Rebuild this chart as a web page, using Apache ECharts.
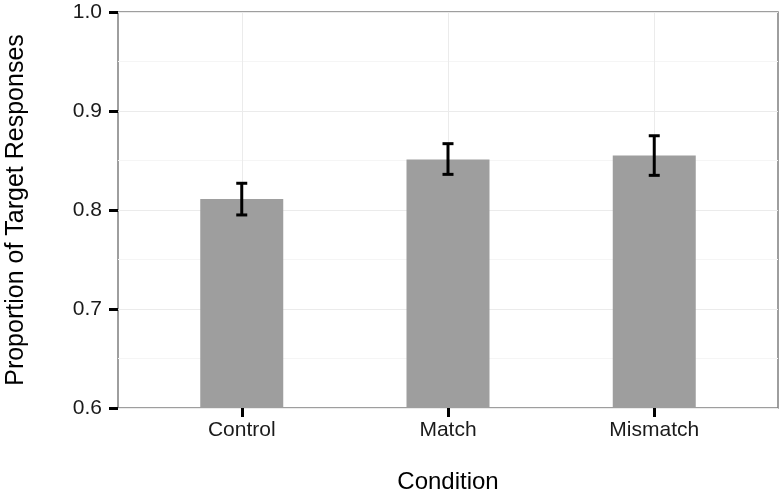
<!DOCTYPE html>
<html><head><meta charset="utf-8">
<script src="https://cdn.jsdelivr.net/npm/echarts@6/dist/echarts.min.js"></script>
<style>html,body{margin:0;padding:0;background:#fff}#c{width:783px;height:495px}</style>
</head><body><div id="c"></div>
<script>
const categories = ['Control', 'Match', 'Mismatch'];
const means = [0.811, 0.851, 0.855];
const errLow = [0.795, 0.836, 0.835];
const errHigh = [0.827, 0.867, 0.875];
const yTicks = [0.6, 0.7, 0.8, 0.9, 1.0];

const catPos = categories.map((c, i) => i + 1);
const chart = echarts.init(document.getElementById('c'));
const font = 'Liberation Sans, Arial, sans-serif';
chart.setOption({
  animation: false,
  grid: { left: 118, right: 5, top: 12, bottom: 87, containLabel: false, outerBoundsMode: 'none',
          show: true, borderColor: '#7f7f7f', borderWidth: 1.5, backgroundColor: '#fff' },
  xAxis: {
    type: 'value', min: 0.4, max: 3.6,
    name: 'Condition', nameLocation: 'middle', nameGap: 62,
    nameTextStyle: { fontFamily: font, fontSize: 24, color: '#000' },
    axisLine: { show: false },
    axisTick: { show: true, length: 9, inside: false, customValues: catPos, lineStyle: { color: '#000', width: 3 } },
    axisLabel: { customValues: catPos, formatter: v => categories[Math.round(v) - 1] || '', fontFamily: font, fontSize: 21, color: '#1a1a1a', margin: 12 },
    splitLine: { show: true, lineStyle: { color: '#ebebeb', width: 1 } }
  },
  yAxis: {
    type: 'value', min: 0.6, max: 1.0, interval: 0.1,
    name: 'Proportion of Target Responses', nameLocation: 'middle', nameGap: 89,
    nameTextStyle: { fontFamily: font, fontSize: 25, color: '#000' },
    axisLine: { show: false },
    axisTick: { show: true, length: 9, lineStyle: { color: '#000', width: 3 } },
    axisLabel: { formatter: v => v.toFixed(1), fontFamily: font, fontSize: 21, color: '#1a1a1a', margin: 16 },
    splitLine: { show: true, lineStyle: { color: '#ebebeb', width: 1 } },
    minorTick: { show: false, splitNumber: 2 },
    minorSplitLine: { show: true, lineStyle: { color: '#f5f5f5', width: 1 } }
  },
  series: [
    {
      type: 'bar', barWidth: 83,
      itemStyle: { color: '#9e9e9e' },
      data: catPos.map((x, i) => [x, means[i]]),
      z: 2
    },
    {
      type: 'custom', z: 5,
      data: catPos.map((x, i) => [x, errLow[i], errHigh[i]]),
      renderItem: function (params, api) {
        const x = api.value(0);
        const lo = api.coord([x, api.value(1)]);
        const hi = api.coord([x, api.value(2)]);
        const hw = 5.5;
        const style = { stroke: '#000', lineWidth: 3 };
        return { type: 'group', children: [
          { type: 'line', shape: { x1: lo[0], y1: lo[1], x2: hi[0], y2: hi[1] }, style },
          { type: 'line', shape: { x1: lo[0] - hw, y1: lo[1], x2: lo[0] + hw, y2: lo[1] }, style },
          { type: 'line', shape: { x1: hi[0] - hw, y1: hi[1], x2: hi[0] + hw, y2: hi[1] }, style }
        ]};
      }
    }
  ]
});
</script></body></html>
